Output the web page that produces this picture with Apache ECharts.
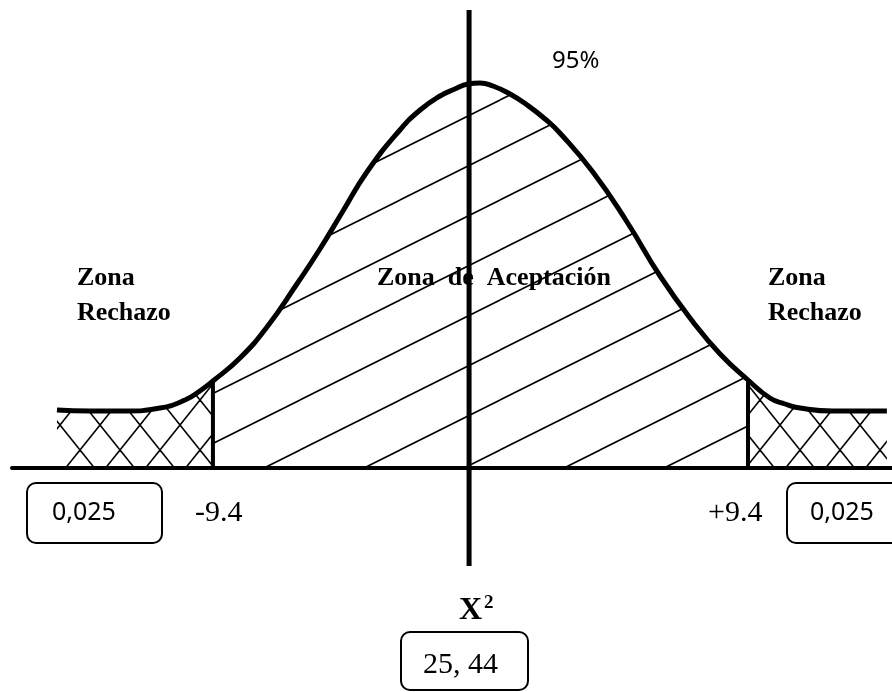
<!DOCTYPE html>
<html>
<head>
<meta charset="utf-8">
<script src="https://cdn.jsdelivr.net/npm/echarts@6/dist/echarts.min.js"></script>
<style>
html,body{margin:0;padding:0;background:#fff;}
#chart{width:892px;height:692px;}
</style>
</head>
<body>
<div id="chart"></div>
<script>
// Curve (x in units where the critical values are ±9.4, y = height above baseline)
const curveX = [-14.88,-13.72,-12.49,-11.26,-10.38,-9.86,-9.40,
  -8.45,-7.50,-6.45,-5.64,-4.83,-3.99,-2.83,-2.12,-1.42,-0.90,-0.44,-0.02,
  0.44,1.04,1.64,2.27,2.79,3.95,5.15,6.31,7.47,8.42,9.40,
  10.17,10.70,11.23,12.39,14.28];
const curveY = [0.58,0.57,0.57,0.60,0.68,0.77,0.87,
  1.10,1.41,1.84,2.19,2.57,2.96,3.38,3.58,3.72,3.79,3.84,3.85,
  3.82,3.74,3.63,3.49,3.35,2.96,2.46,1.92,1.46,1.14,0.88,
  0.70,0.64,0.60,0.57,0.57];
const criticalValues = [-9.4, 9.4];
const criticalLabels = ['-9.4', '+9.4'];
const tailProbability = ['0,025', '0,025'];
const acceptanceLabel = '95%';
const statisticValue = '25, 44';
const axisX = -0.40;
const axisRange = [-0.98, 4.58];

const pts = curveX.map((x, i) => [x, curveY[i]]);
const iL = curveX.indexOf(criticalValues[0]);
const iR = curveX.indexOf(criticalValues[1]);
const leftTail = pts.slice(0, iL + 1);
const middle = pts.slice(iL, iR + 1);
const rightTail = pts.slice(iR);

function hatch(w, h, lines, lw) {
  const c = document.createElement('canvas');
  c.width = w; c.height = h;
  const ctx = c.getContext('2d');
  ctx.strokeStyle = '#000';
  ctx.lineWidth = lw;
  for (const [x0, y0, x1, y1] of lines) {
    for (let dx = -1; dx <= 1; dx++) for (let dy = -1; dy <= 1; dy++) {
      ctx.beginPath();
      ctx.moveTo(x0 + dx * w, y0 + dy * h);
      ctx.lineTo(x1 + dx * w, y1 + dy * h);
      ctx.stroke();
    }
  }
  return c;
}
const singleHatch = hatch(100, 50, [[0, 50, 100, 0]], 1.6);
const crossHatch = hatch(40, 50, [[0, 50, 40, 0], [0, 0, 40, 50]], 1.6);

const SMOOTH = 0.5;
function areaSeries(data, pattern) {
  return {
    type: 'line', data: data, smooth: SMOOTH, showSymbol: false, silent: true,
    lineStyle: { width: 0, opacity: 0 },
    areaStyle: { color: { image: pattern, repeat: 'repeat' }, opacity: 1 },
    z: 1
  };
}
function vline(x, y0, y1, w) {
  return {
    type: 'line', data: [[x, y0], [x, y1]], showSymbol: false, silent: true,
    lineStyle: { color: '#000', width: w }, z: 4
  };
}

const chart = echarts.init(document.getElementById('chart'), null, { renderer: 'canvas' });

const serif = '"Liberation Serif","Times New Roman",serif';
const sans = '"Noto Sans","Open Sans",sans-serif';
function txt(text, x, y, font) {
  return {
    type: 'text', silent: true, z: 10,
    style: { text: text, x: x, y: y, font: font, fill: '#000', textAlign: 'left', textVerticalAlign: 'middle' }
  };
}
function box(x, y, w, h) {
  return {
    type: 'rect', silent: true, z: 10,
    shape: { x: x, y: y, width: w, height: h, r: 9 },
    style: { fill: 'none', stroke: '#000', lineWidth: 2 }
  };
}

chart.setOption({
  animation: false,
  backgroundColor: '#fff',
  grid: { left: 12, right: 0, top: 0, bottom: 0 },
  xAxis: {
    type: 'value', min: -16.46, max: 14.46,
    axisLine: { show: true, onZero: true, lineStyle: { color: '#000', width: 4 } },
    axisTick: { show: false }, axisLabel: { show: false }, splitLine: { show: false }
  },
  yAxis: {
    type: 'value', min: -2.24, max: 4.68,
    axisLine: { show: false }, axisTick: { show: false }, axisLabel: { show: false }, splitLine: { show: false }
  },
  series: [
    areaSeries(middle, singleHatch),
    areaSeries(leftTail, crossHatch),
    areaSeries(rightTail, crossHatch),
    {
      type: 'line', data: pts, smooth: SMOOTH, showSymbol: false, silent: true,
      lineStyle: { color: '#000', width: 5 }, z: 3
    },
    vline(criticalValues[0], 0, curveY[iL], 4),
    vline(criticalValues[1], 0, curveY[iR], 4),
    vline(axisX, axisRange[0], axisRange[1], 5)
  ],
  graphic: [
    txt(acceptanceLabel, 552, 61, '24px ' + sans),
    txt('Zona  de  Aceptación', 377, 278, 'bold 26px ' + serif),
    txt('Zona', 77, 278, 'bold 26px ' + serif),
    txt('Rechazo', 77, 313, 'bold 26px ' + serif),
    txt('Zona', 768, 278, 'bold 26px ' + serif),
    txt('Rechazo', 768, 313, 'bold 26px ' + serif),
    box(27, 483, 135, 60),
    txt(tailProbability[0], 52, 513, '25px ' + sans),
    txt(criticalLabels[0], 195, 513, '30px ' + serif),
    txt(criticalLabels[1], 708, 513, '30px ' + serif),
    box(787, 483, 140, 60),
    txt(tailProbability[1], 810, 513, '25px ' + sans),
    txt('X', 459, 611, 'bold 32px ' + serif),
    txt('2', 484, 603, 'bold 19px ' + serif),
    box(401, 632, 127, 58),
    txt(statisticValue, 423, 665, '30px ' + serif)
  ]
});
</script>
</body>
</html>
